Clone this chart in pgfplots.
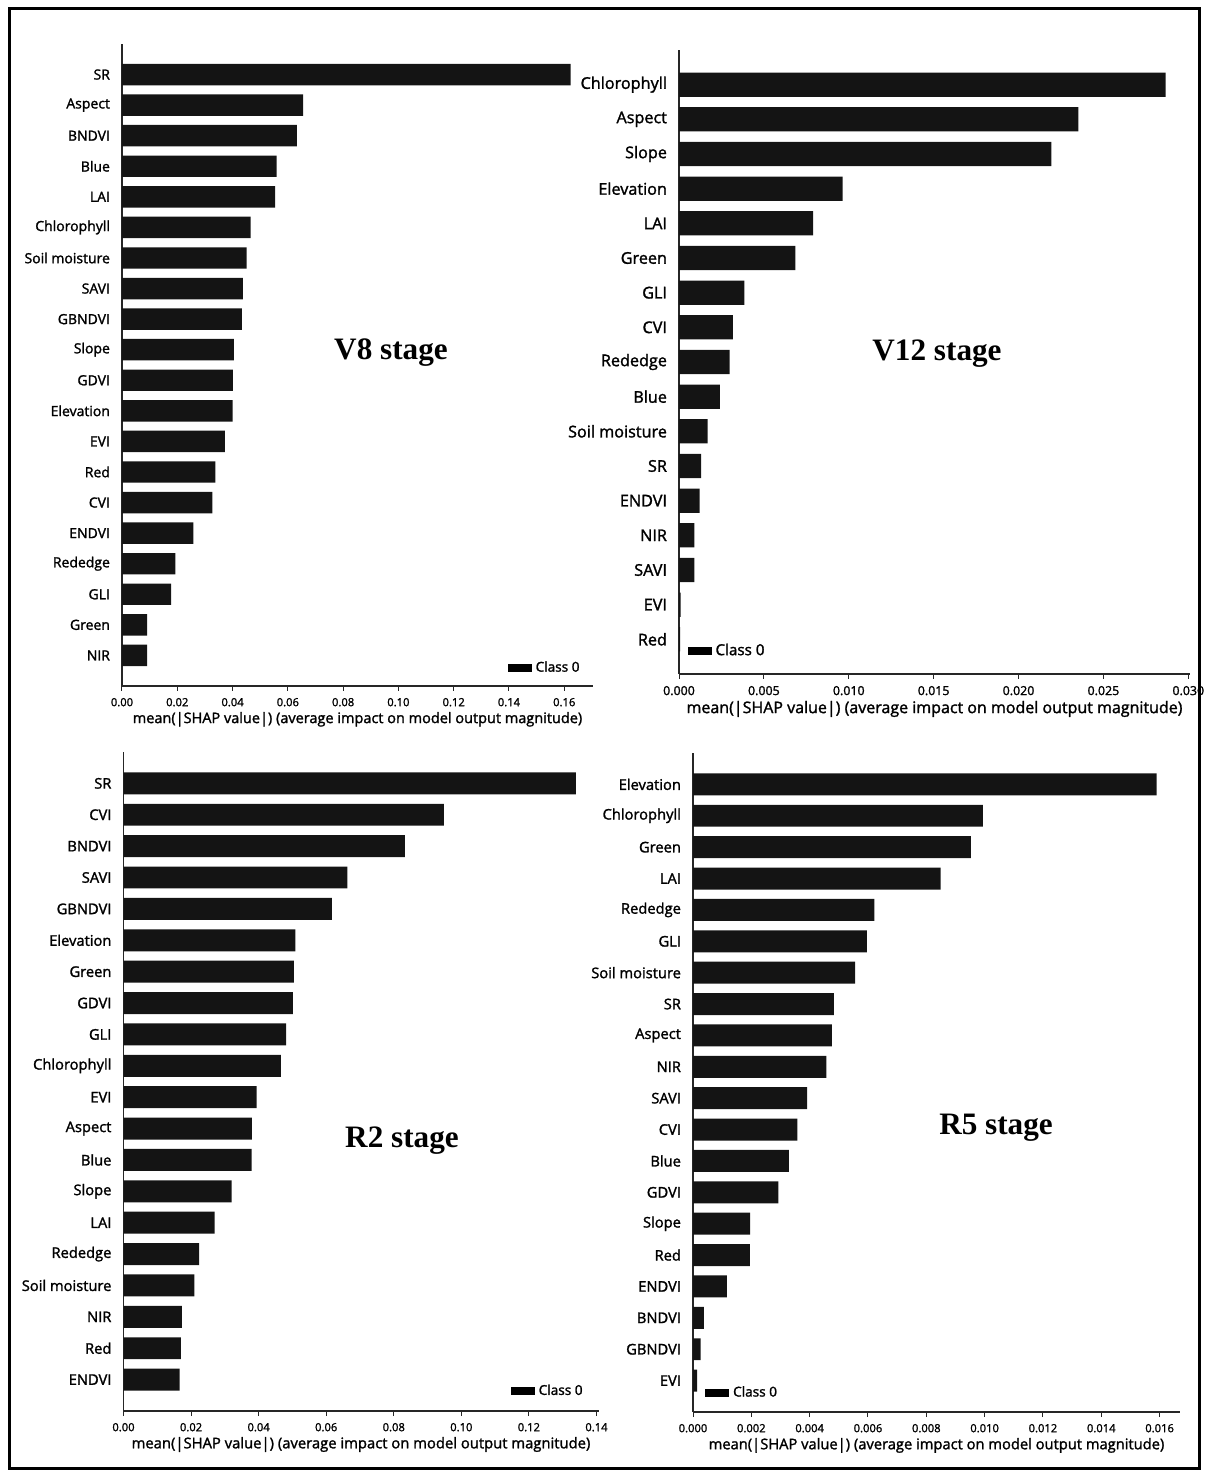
\documentclass[border=0pt]{standalone}
\usepackage{fontspec}
\usepackage{pgfplots}
\pgfplotsset{compat=1.18}
\setmainfont[FakeBold=1.6]{Open Sans}
\newfontfamily\stagefont{Liberation Serif}

\pgfplotsset{
  shapbar/.style={
    scale only axis,
    xbar, bar width=0.7,
    axis x line*=bottom, axis y line*=left,
    axis line style={line width=0.6pt, black!85},
    xmin=0, ymin=-1,
    scaled x ticks=false,
    tick align=outside,
    major tick length=2.5pt,
    x tick style={black!85, line width=0.5pt},
    y tick style={draw=none},
    /pgf/number format/assume math mode=true,
    xticklabel style={font=\fontsize{5.6}{6}\selectfont,
      /pgf/number format/fixed, /pgf/number format/fixed zerofill,
      /pgf/number format/precision=2},
    yticklabel style={font=\fontsize{7.0}{8}\selectfont},
    xlabel={mean(|SHAP value|) (average impact on model output magnitude)},
    xlabel style={font=\fontsize{7.25}{8}\selectfont, yshift=4pt},
    legend style={draw=none, fill=none, font=\fontsize{6.8}{8}\selectfont,
      inner sep=1pt, cells={anchor=west}},
    legend image code/.code={\fill[black] (0pt,-2pt) rectangle (12pt,2pt);},
  },
  shapfill/.style={fill=black!92, draw=none},
}
\tikzset{stage/.style={font=\stagefont\bfseries\fontsize{15.6}{18}\selectfont}}

\begin{document}
\begin{tikzpicture}
\path (0,0) rectangle (604pt,738.5pt);
\draw[line width=1.5pt] (4.5pt,4.2pt) rectangle (599.6pt,734.3pt);

% V8 stage
\begin{axis}[shapbar,
  at={(61pt,395.5pt)}, anchor=south west,
  width=235.5pt, height=321pt,
  xmax=0.1704, ymax=20,
  xtick={0,0.02,0.04,0.06,0.08,0.10,0.12,0.14,0.16},
  ytick={0,...,19},
  yticklabels={NIR,Green,GLI,Rededge,ENDVI,CVI,Red,EVI,Elevation,GDVI,Slope,GBNDVI,SAVI,Soil moisture,Chlorophyll,LAI,Blue,BNDVI,Aspect,SR},
  legend style={at={(0.985,0.028)}, anchor=east},
]
\addplot[shapfill] coordinates {
  (0.0091,0) (0.0091,1) (0.0178,2) (0.0193,3) (0.0258,4)
  (0.0327,5) (0.0338,6) (0.0372,7) (0.0400,8) (0.0401,9)
  (0.0405,10) (0.0434,11) (0.0437,12) (0.0451,13) (0.0465,14)
  (0.0554,15) (0.0559,16) (0.0633,17) (0.0655,18) (0.1623,19)};
\addlegendentry{Class 0}
\end{axis}

% V12 stage
\begin{axis}[shapbar,
  at={(339.5pt,401.5pt)}, anchor=south west,
  width=255.5pt, height=312pt,
  xmax=0.0301, ymax=17,
  xtick={0,0.005,0.010,0.015,0.020,0.025,0.030},
  xticklabel style={font=\fontsize{6.2}{7}\selectfont, /pgf/number format/precision=3},
  yticklabel style={font=\fontsize{8.1}{9}\selectfont},
  xlabel style={font=\fontsize{8.0}{9}\selectfont},
  legend style={font=\fontsize{7.6}{9}\selectfont, at={(0.012,0.037)}, anchor=west},
  ytick={0,...,16},
  yticklabels={Red,EVI,SAVI,NIR,ENDVI,SR,Soil moisture,Blue,Rededge,CVI,GLI,Green,LAI,Elevation,Slope,Aspect,Chlorophyll},
]
\addplot[shapfill] coordinates {
  (0.00007,0) (0.00010,1) (0.00090,2) (0.00091,3) (0.00121,4)
  (0.00131,5) (0.00169,6) (0.00240,7) (0.00298,8) (0.00317,9)
  (0.00385,10) (0.00686,11) (0.00790,12) (0.00964,13) (0.02193,14)
  (0.02352,15) (0.02866,16)};
\addlegendentry{Class 0}
\end{axis}

% R2 stage
\begin{axis}[shapbar,
  at={(61.75pt,33pt)}, anchor=south west,
  width=237.5pt, height=329.5pt,
  xmax=0.1406, ymax=20,
  xtick={0,0.02,0.04,0.06,0.08,0.10,0.12,0.14},
  yticklabel style={font=\fontsize{7.35}{8}\selectfont},
  xlabel style={font=\fontsize{7.4}{8}\selectfont},
  ytick={0,...,19},
  yticklabels={ENDVI,Red,NIR,Soil moisture,Rededge,LAI,Slope,Blue,Aspect,EVI,Chlorophyll,GLI,GDVI,Green,Elevation,GBNDVI,SAVI,BNDVI,CVI,SR},
  legend style={at={(0.98,0.03)}, anchor=east},
]
\addplot[shapfill] coordinates {
  (0.0166,0) (0.0170,1) (0.0173,2) (0.0210,3) (0.0224,4)
  (0.0270,5) (0.0320,6) (0.0379,7) (0.0380,8) (0.0394,9)
  (0.0466,10) (0.0481,11) (0.0501,12) (0.0504,13) (0.0509,14)
  (0.0617,15) (0.0663,16) (0.0833,17) (0.0948,18) (0.1339,19)};
\addlegendentry{Class 0}
\end{axis}

% R5 stage
\begin{axis}[shapbar,
  at={(346.5pt,32.5pt)}, anchor=south west,
  width=243.5pt, height=329.5pt,
  xmax=0.0167, ymax=20,
  xtick={0,0.002,0.004,0.006,0.008,0.010,0.012,0.014,0.016},
  xticklabel style={/pgf/number format/precision=3},
  yticklabel style={font=\fontsize{7.35}{8}\selectfont},
  xlabel style={font=\fontsize{7.35}{8}\selectfont},
  ytick={0,...,19},
  yticklabels={EVI,GBNDVI,BNDVI,ENDVI,Red,Slope,GDVI,Blue,CVI,SAVI,NIR,Aspect,SR,Soil moisture,GLI,Rededge,LAI,Green,Chlorophyll,Elevation},
  legend style={at={(0.02,0.029)}, anchor=west},
]
\addplot[shapfill] coordinates {
  (0.00014,0) (0.00026,1) (0.00037,2) (0.00116,3) (0.00195,4)
  (0.00196,5) (0.00293,6) (0.00329,7) (0.00358,8) (0.00391,9)
  (0.00457,10) (0.00476,11) (0.00483,12) (0.00556,13) (0.00596,14)
  (0.00622,15) (0.00849,16) (0.00953,17) (0.00994,18) (0.01590,19)};
\addlegendentry{Class 0}
\end{axis}

% stage captions
\node[stage] at (195.5pt,562pt) {V8 stage};
\node[stage] at (468.5pt,561.5pt) {V12 stage};
\node[stage] at (201pt,168pt) {R2 stage};
\node[stage] at (498pt,174.5pt) {R5 stage};
\end{tikzpicture}
\end{document}
